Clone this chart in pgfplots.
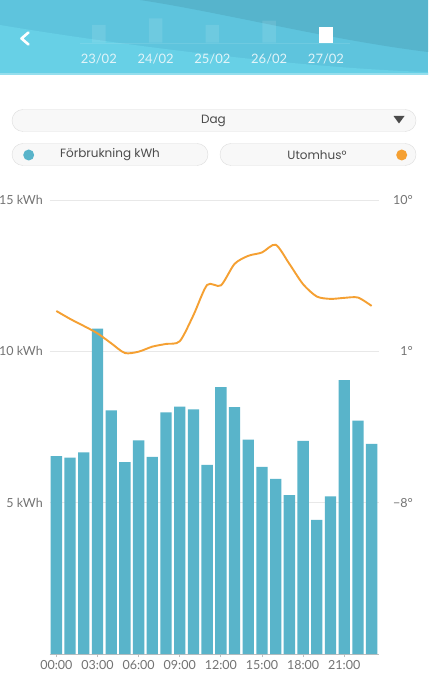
\documentclass[border=0pt]{standalone}
\usepackage{fontspec}
\setmainfont{Lato}
\newfontfamily\popfont{Poppins}
\usepackage{pgfplots}
\pgfplotsset{compat=1.18}
\definecolor{barblue}{RGB}{89,180,202}
\definecolor{lineorange}{RGB}{245,160,50}
\definecolor{gridgray}{RGB}{232,232,232}
\definecolor{ticktext}{RGB}{115,115,115}
\definecolor{axisgray}{RGB}{190,190,190}
\definecolor{hdrA}{RGB}{94,196,221}
\definecolor{hdrB}{RGB}{86,180,204}
\definecolor{hdrC}{RGB}{103,208,230}
\definecolor{btnfill}{RGB}{248,248,248}
\definecolor{btnborder}{RGB}{222,222,222}
\definecolor{btntext}{RGB}{75,75,75}

\begin{document}
\begin{tikzpicture}[x=1pt,y=-1pt]
\path[use as bounding box] (0,0) rectangle (428,700);
\fill[white] (0,0) rectangle (428,700);
% header
\fill[hdrA] (0,0) rectangle (428,75);
\fill[hdrB] (140,0) .. controls (220,12) and (330,40) .. (428,52) -- (428,0) -- cycle;
\fill[hdrC] (0,25) .. controls (120,45) and (300,68) .. (428,72) -- (428,75) -- (0,75) -- cycle;
\fill[hdrC!70!white] (0,73) rectangle (428,75);
\draw[white, opacity=0.1] (80,43) -- (350,43);
\draw[white, line width=2.6pt, line cap=round, line join=round] (28.5,32.5) -- (21.5,38.5) -- (28.5,44.5);
\begin{axis}[at={(98.8pt,-42.7pt)}, anchor=south west, scale only axis,
  width=227.2pt, height=24.4pt, xmin=0, xmax=4, ymin=0, ymax=24.4,
  hide axis, clip=false, ybar, bar width=13.5pt]
\addplot[fill=white, fill opacity=0.1, draw=none, bar shift=0pt] coordinates {(0,17.7)(1,24.4)(2,17.7)(3,22)};
\addplot[fill=white, draw=none, bar shift=0pt] coordinates {(4,16)};
\end{axis}
\foreach \x/\d in {98.8/{23/02},155.6/{24/02},212.4/{25/02},269.2/{26/02},326/{27/02}}
  \node[text=white!82!hdrA, font=\fontsize{13}{15}\selectfont, inner sep=0pt] at (\x,59) {\d};
% controls
\draw[btnborder, fill=btnfill, rounded corners=11pt] (12,109.5) rectangle (416,131.5);
\node[btntext, font=\popfont\fontsize{12}{14}\selectfont, inner sep=0pt] at (213.5,120.5) {Dag};
\fill[btntext] (393.5,116) -- (404.5,116) -- (399,123.5) -- cycle;
\draw[btnborder, fill=btnfill, rounded corners=11pt] (12,143.5) rectangle (208,165.5);
\draw[btnborder, fill=btnfill, rounded corners=11pt] (220,143.5) rectangle (416,165.5);
\fill[barblue] (28.7,155) circle (5.5);
\fill[lineorange] (401.7,155) circle (5.5);
\node[btntext, font=\popfont\fontsize{12}{14}\selectfont, inner sep=0pt] at (110,155) {Förbrukning kWh};
\node[btntext, font=\popfont\fontsize{12}{14}\selectfont, inner sep=0pt] at (317,155) {Utomhus°};
% main chart
\begin{axis}[at={(49.5pt,-654pt)}, anchor=south west, scale only axis,
  width=329pt, height=454pt, xmin=-0.5, xmax=23.5, ymin=0, ymax=15,
  axis x line*=bottom, axis y line*=left,
  x axis line style={draw=axisgray, line width=0.9pt, -},
  y axis line style={draw=none},
  ymajorgrids, grid style={gridgray, line width=0.8pt},
  ytick={5,10,15}, yticklabels={5 kWh,10 kWh,15 kWh},
  xtick={0,3,6,9,12,15,18,21},
  xticklabels={00:00,03:00,06:00,09:00,12:00,15:00,18:00,21:00},
  tick align=outside, xtick pos=bottom, ytick style={draw=none},
  xtick style={draw=axisgray, line width=0.8pt}, major tick length=3pt,
  ticklabel style={text=ticktext, font=\fontsize{12.5}{14}\selectfont, inner sep=0pt},
  yticklabel style={anchor=east, xshift=-3.5pt},
  xticklabel style={anchor=north, yshift=-3pt},
  ybar, bar width=11.3pt]
\addplot[fill=barblue, draw=none, bar shift=0pt] coordinates {
(0,6.54)(1,6.49)(2,6.66)(3,10.75)(4,8.05)(5,6.34)(6,7.06)(7,6.51)
(8,7.98)(9,8.17)(10,8.08)(11,6.25)(12,8.82)(13,8.16)(14,7.08)(15,6.18)
(16,5.79)(17,5.25)(18,7.04)(19,4.43)(20,5.21)(21,9.05)(22,7.71)(23,6.94)};
\end{axis}
\begin{axis}[at={(49.5pt,-654pt)}, anchor=south west, scale only axis,
  width=329pt, height=454pt, xmin=-0.5, xmax=23.5, ymin=-17, ymax=10,
  axis x line=none, axis y line*=right, y axis line style={draw=none},
  xtick=\empty, ytick={-8,1,10}, yticklabels={−8°,1°,10°},
  ytick style={draw=none},
  yticklabel style={text=ticktext, font=\fontsize{12.5}{14}\selectfont, inner sep=0pt, anchor=east, xshift=34.5pt}]
\addplot[lineorange, line width=1.9pt, smooth, tension=0.45] coordinates {
(0,3.40)(1,2.93)(2,2.51)(3,2.07)(4,1.48)(5,0.90)(6,0.98)(7,1.28)
(8,1.44)(9,1.60)(10,3.15)(11,4.95)(12,4.92)(13,6.20)(14,6.68)(15,6.88)
(16,7.34)(17,6.20)(18,4.99)(19,4.26)(20,4.12)(21,4.18)(22,4.20)(23,3.70)};
\end{axis}
\end{tikzpicture}
\end{document}
